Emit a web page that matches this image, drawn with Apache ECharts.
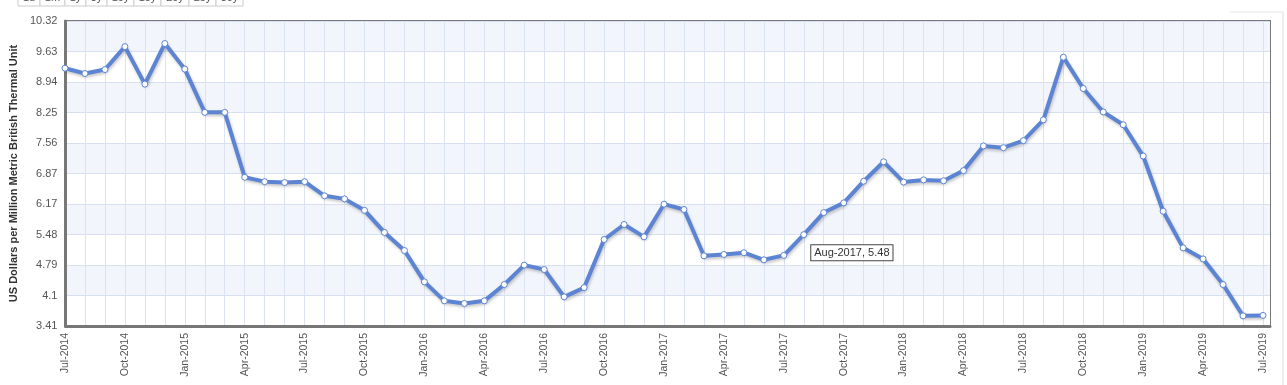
<!DOCTYPE html>
<html>
<head>
<meta charset="utf-8">
<script src="https://cdn.jsdelivr.net/npm/echarts@6/dist/echarts.min.js"></script>
<style>
html,body{margin:0;padding:0;background:#fff;}
#chart{width:1287px;height:385px;}
</style>
</head>
<body>
<div id="chart"></div>
<script>
// ---- data ----
const months = [
 'Jul-2014','Aug-2014','Sep-2014','Oct-2014','Nov-2014','Dec-2014',
 'Jan-2015','Feb-2015','Mar-2015','Apr-2015','May-2015','Jun-2015','Jul-2015','Aug-2015','Sep-2015','Oct-2015','Nov-2015','Dec-2015',
 'Jan-2016','Feb-2016','Mar-2016','Apr-2016','May-2016','Jun-2016','Jul-2016','Aug-2016','Sep-2016','Oct-2016','Nov-2016','Dec-2016',
 'Jan-2017','Feb-2017','Mar-2017','Apr-2017','May-2017','Jun-2017','Jul-2017','Aug-2017','Sep-2017','Oct-2017','Nov-2017','Dec-2017',
 'Jan-2018','Feb-2018','Mar-2018','Apr-2018','May-2018','Jun-2018','Jul-2018','Aug-2018','Sep-2018','Oct-2018','Nov-2018','Dec-2018',
 'Jan-2019','Feb-2019','Mar-2019','Apr-2019','May-2019','Jun-2019','Jul-2019'
];
const prices = [
 9.25, 9.13, 9.22, 9.74, 8.89, 9.81,
 9.23, 8.25, 8.25, 6.78, 6.68, 6.66, 6.68, 6.36, 6.29, 6.03, 5.53, 5.12,
 4.41, 3.98, 3.92, 3.98, 4.35, 4.79, 4.69, 4.07, 4.28, 5.37, 5.71, 5.43,
 6.17, 6.05, 5.00, 5.03, 5.07, 4.91, 5.01, 5.48, 5.98, 6.20, 6.69, 7.13,
 6.67, 6.72, 6.70, 6.93, 7.49, 7.45, 7.61, 8.08, 9.50, 8.79, 8.26, 7.97,
 7.26, 6.01, 5.18, 4.93, 4.35, 3.64, 3.65
];
const yTickLabels = ['3.41','4.1','4.79','5.48','6.17','6.87','7.56','8.25','8.94','9.63','10.32'];
const yMin = 3.41, yMax = 10.32;
const tipIndex = 37;
const tipText = 'Aug-2017, 5.48';
const rangeButtons = ['1d','1m','1y','3y','10y','15y','20y','25y','30y'];
const yTitle = 'US Dollars per Million Metric British Thermal Unit';

// ---- chart ----
const chart = echarts.init(document.getElementById('chart'), null, {renderer:'canvas'});
const FONT = '"Liberation Sans", Arial, sans-serif';
const lineColor = '#5c84d2';

const seriesData = prices.map((v, i) => {
  if (i !== tipIndex) return v;
  return {
    value: v,
    label: {
      show: true,
      formatter: tipText,
      position: [11, 14],
      align: 'left',
      verticalAlign: 'top',
      color: '#333',
      fontFamily: FONT,
      fontSize: 11,
      backgroundColor: '#fff',
      borderColor: '#444',
      borderWidth: 1,
      padding: [2, 3, 2, 3]
    }
  };
});

// toolbar buttons (cut off at top)
const btnEdges = [18, 40, 65, 86, 107, 134, 161, 189, 216, 243];
const toolbar = [];
for (let i = 0; i < rangeButtons.length; i++) {
  const x0 = btnEdges[i], x1 = btnEdges[i+1];
  toolbar.push({type:'rect', shape:{x:x0, y:-10, width:x1-x0, height:16},
    style:{fill:'#fff', stroke:'#ccc', lineWidth:1}});
  toolbar.push({type:'text', x:(x0+x1)/2, y:3,
    style:{text:rangeButtons[i], fill:'#555', font:'11px ' + FONT, align:'center', verticalAlign:'bottom'}});
}

const option = {
  animation: false,
  backgroundColor: '#fff',
  grid: [
    {left: 59, top: 21, width: 1211, height: 305, show: true, borderColor: '#787878', borderWidth: 2, backgroundColor: 'transparent'},
    {left: 65, top: 21, width: 1198, height: 305, show: false}
  ],
  xAxis: [
    {gridIndex: 0, type: 'value', min: 0, max: 1, show: true,
     axisLine: {show: true, onZero: false, lineStyle: {color: '#777', width: 3}},
     axisTick: {show: false}, axisLabel: {show: false}, splitLine: {show: false}},
    {gridIndex: 1, type: 'category', data: months, boundaryGap: false,
     axisLine: {show: false}, axisTick: {show: false},
     axisLabel: {interval: 2, rotate: 90, margin: 7, color: '#555', fontFamily: FONT, fontSize: 10.5},
     splitLine: {show: true, interval: 0, lineStyle: {color: '#dbe3f2', width: 1}}}
  ],
  yAxis: [
    {gridIndex: 0, type: 'value', min: 0, max: 10, interval: 1,
     name: yTitle, nameLocation: 'middle', nameRotate: 90, nameGap: 41,
     nameTextStyle: {fontFamily: FONT, fontWeight: 'bold', fontSize: 11, color: '#333'},
     axisLine: {show: true, lineStyle: {color: '#777', width: 3}},
     axisTick: {show: false},
     axisLabel: {margin: 8, color: '#555', fontFamily: FONT, fontSize: 11,
       formatter: v => yTickLabels[Math.round(v)]},
     splitLine: {show: true, lineStyle: {color: '#d6e0f1', width: 1}},
     splitArea: {show: true, areaStyle: {color: ['#ffffff', '#f3f5fc']}}},
    {gridIndex: 1, type: 'value', min: yMin, max: yMax, show: false, splitLine: {show: false}}
  ],
  series: [{
    type: 'line', xAxisIndex: 1, yAxisIndex: 1,
    data: seriesData,
    symbol: 'circle', symbolSize: 6, showSymbol: true,
    lineStyle: {color: lineColor, width: 4, shadowColor: 'rgba(0,0,0,0.22)', shadowBlur: 3, shadowOffsetX: 1, shadowOffsetY: 2},
    itemStyle: {color: '#ffffff', borderColor: lineColor, borderWidth: 1},
    emphasis: {disabled: true},
    z: 5
  }],
  graphic: toolbar.concat([
    {type:'line', shape:{x1:1283, y1:12, x2:1283, y2:385}, style:{stroke:'#ddd', lineWidth:1}},
    {type:'line', shape:{x1:1230, y1:12, x2:1283, y2:12}, style:{stroke:'#e6e6e6', lineWidth:1}}
  ])
};
chart.setOption(option);
</script>
</body>
</html>
